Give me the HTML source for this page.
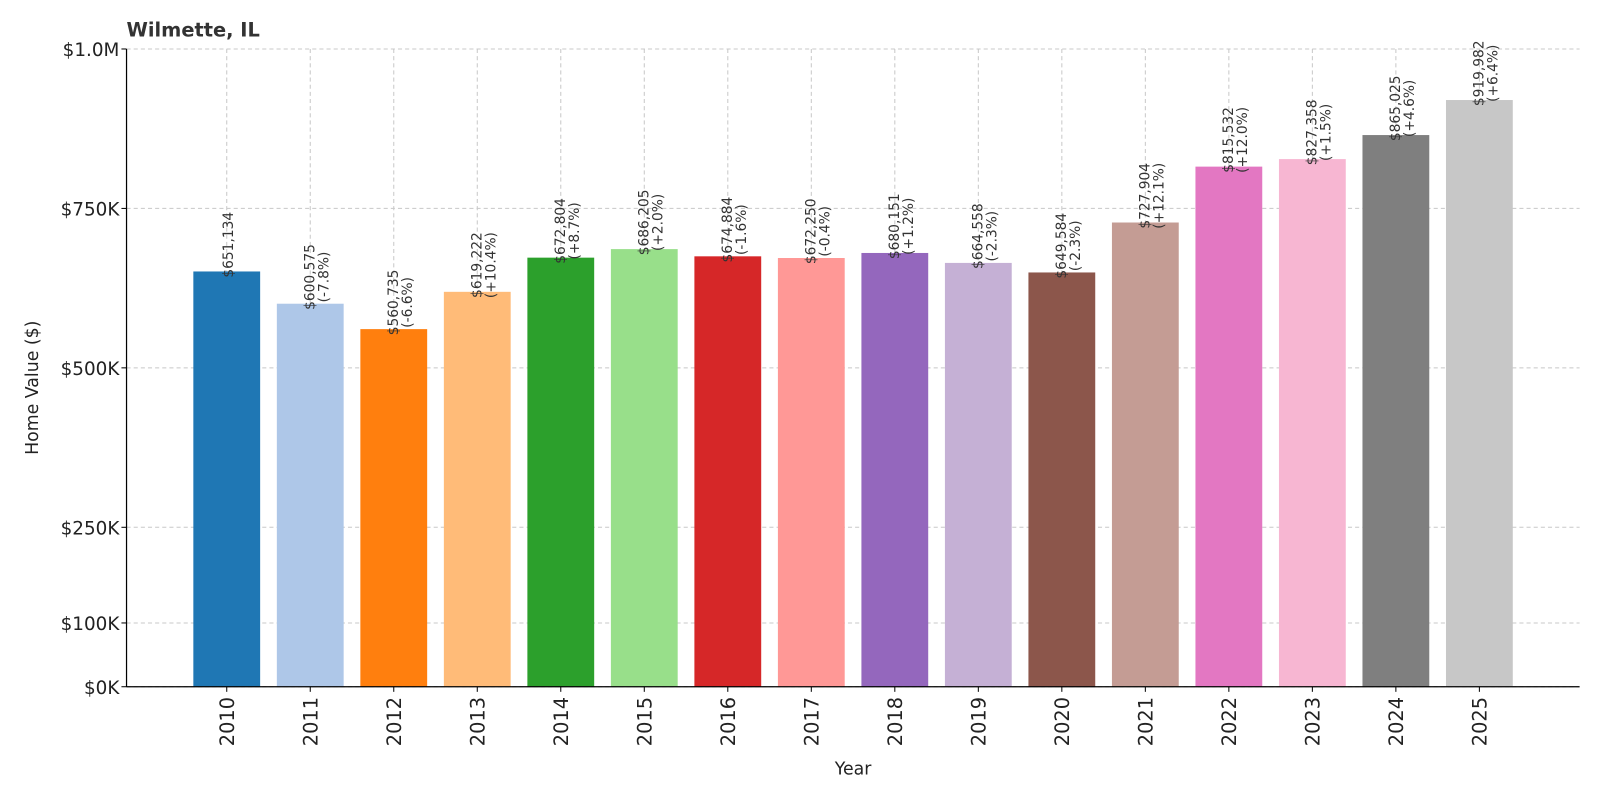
<!DOCTYPE html>
<html><head><meta charset="utf-8"><style>
body{margin:0;background:#fff;}
svg{display:block;font-family:"DejaVu Sans","Liberation Sans",sans-serif;}
</style></head><body>
<svg id="chart" width="1600" height="800" viewBox="0 0 1568 784" xmlns="http://www.w3.org/2000/svg">
<rect width="1568" height="784" fill="#fff"/>
<text x="124" y="36" font-size="19" font-weight="bold" fill="#333">Wilmette, IL</text>
<g id="grid"></g>
<g id="bars"></g>
<g id="labels"></g>
<g id="axes"></g>
<text transform="translate(37,380) rotate(-90)" text-anchor="middle" font-size="17" fill="#222">Home Value ($)</text>
<text x="836" y="759" text-anchor="middle" font-size="17" fill="#222">Year</text>
</svg>
<script>
const years=["2010","2011","2012","2013","2014","2015","2016","2017","2018","2019","2020","2021","2022","2023","2024","2025"];
const values=[651134,600575,560735,619222,672804,686205,674884,672250,680151,664558,649584,727904,815532,827358,865025,919982];
const changes=["","(-7.8%)","(-6.6%)","(+10.4%)","(+8.7%)","(+2.0%)","(-1.6%)","(-0.4%)","(+1.2%)","(-2.3%)","(-2.3%)","(+12.1%)","(+12.0%)","(+1.5%)","(+4.6%)","(+6.4%)"];
const yTicks=[0,100000,250000,500000,750000,1000000];
const yTickLabels=["$0K","$100K","$250K","$500K","$750K","$1.0M"];
const colors=["#1f77b4","#aec7e8","#ff7f0e","#ffbb78","#2ca02c","#98df8a","#d62728","#ff9896","#9467bd","#c5b0d5","#8c564b","#c49c94","#e377c2","#f7b6d2","#7f7f7f","#c7c7c7"];
const NS="http://www.w3.org/2000/svg";
const L=124,R=1548,T=48,B=673;
const xmin=-1.2,xmax=years.length+0.2;
const xs=i=>L+(i-xmin)/(xmax-xmin)*(R-L);
const ys=v=>B-v/1000000*(B-T);
const bw=0.8*(R-L)/(xmax-xmin);
function mk(tag,attrs,parent,txt){const e=document.createElementNS(NS,tag);for(const k in attrs)e.setAttribute(k,attrs[k]);if(txt!==undefined)e.textContent=txt;parent.appendChild(e);return e;}
const grid=document.getElementById('grid'),bars=document.getElementById('bars'),labels=document.getElementById('labels'),axes=document.getElementById('axes');
yTicks.forEach((t,i)=>{
  const g=mk('line',{x1:L,x2:R,y1:ys(t),y2:ys(t),stroke:'#c8c8c8','stroke-dasharray':'4,3','stroke-width':1},grid);
  
  
  mk('line',{x1:L-5,x2:L,y1:ys(t),y2:ys(t),stroke:'#000'},axes);
  const tx=mk('text',{x:L-7,y:ys(t)+7,'text-anchor':'end','font-size':18,fill:'#222'},axes,yTickLabels[i]);
  
  
});
years.forEach((y,i)=>{
  const cx=xs(i);
  const g=mk('line',{x1:cx,x2:cx,y1:T,y2:B,stroke:'#c8c8c8','stroke-dasharray':'4,3','stroke-width':1},grid);
  
  
  const top=ys(values[i]);
  const r=mk('rect',{x:cx-bw/2,y:top,width:bw,height:B-top,fill:colors[i]},bars);
  
  
  mk('line',{x1:cx,x2:cx,y1:B,y2:B+5,stroke:'#000'},axes);
  const tl=mk('text',{transform:`translate(${cx+7},${B+10}) rotate(-90)`,'text-anchor':'end','font-size':19,fill:'#222'},axes,y);
  
  
  const val='$'+values[i].toLocaleString('en-US');
  const two=changes[i]!=="";
  const grp=mk('g',{transform:`translate(${cx+(two?0:2)},${top+6}) rotate(-90)`},labels);
  
  
  const t1=mk('text',{x:0,y:4,'font-size':13.5,fill:'#333'},grp,val);
  if(two){
    const w1=t1.getComputedTextLength();
    mk('text',{x:w1/2,y:18,'font-size':13.5,fill:'#333','text-anchor':'middle'},grp,changes[i]);
  }
});
mk('line',{x1:L,x2:L,y1:T,y2:B,stroke:'#000','stroke-width':1.2},axes);
mk('line',{x1:L,x2:R,y1:B,y2:B,stroke:'#000','stroke-width':1.2},axes);
</script>
</body></html>
